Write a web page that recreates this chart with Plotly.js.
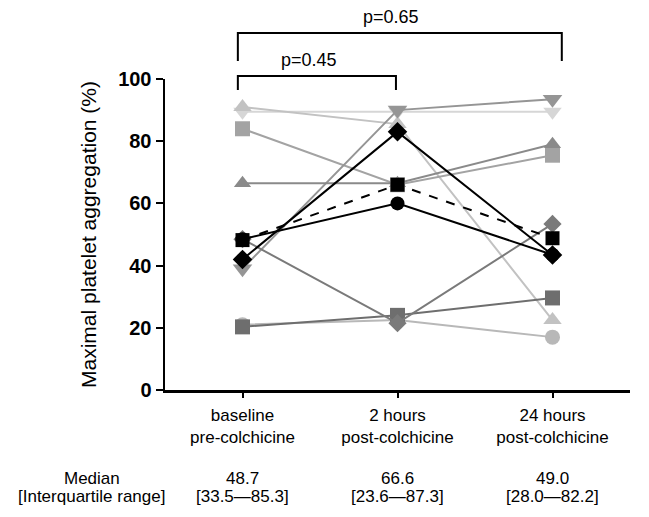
<!DOCTYPE html>
<html>
<head>
<meta charset="utf-8">
<script src="https://cdn.plot.ly/plotly-3.0.1.min.js"></script>
<style>html,body{margin:0;padding:0;background:#fff;}#chart{width:649px;height:517px;}</style>
</head>
<body>
<div id="chart"></div>
<script>
// Time points (x categories)
var timepoints = [0, 1, 2];
var tickLabels = ["baseline<br>pre-colchicine", "2 hours<br>post-colchicine", "24 hours<br>post-colchicine"];

// Individual patients: maximal platelet aggregation (%)
var p_lightTriUp   = [91, 85.5, 22.5];
var p_paleTriDown  = [89.5, 89.5, 89.5];
var p_grayTriDown  = [39, 90, 93.5];
var p_graySquare   = [84, 66, 75.5];
var p_grayTriUp    = [66.5, 66.5, 79];
var p_lightCircle  = [21, 22.5, 17];
var p_darkSquare   = [20.3, 24, 29.6];
var p_grayDiamond  = [48.5, 21.5, 53.4];
var p_blackCircle  = [48.5, 60, 43.5];
var p_blackDiamond = [42, 83, 43.4];
var p_blackSquare  = [48.2, 66, 48.8];

// Summary statistics
var medians = ["48.7", "66.6", "49.0"];
var iqrs = ["[33.5\u201485.3]", "[23.6\u201487.3]", "[28.0\u201482.2]"];
var pValues = ["p=0.45", "p=0.65"];

function tr(y, color, symbol, size, dash) {
  return {
    x: timepoints, y: y, type: "scatter", mode: "lines+markers",
    line: {color: color, width: 2, dash: dash || "solid"},
    marker: {color: color, symbol: symbol, size: size, line: {width: 0}},
    showlegend: false, hoverinfo: "y"
  };
}

var data = [
  tr(p_paleTriDown, "#d6d6d6", "triangle-down", 16),
  tr(p_lightTriUp, "#c2c2c2", "triangle-up", 16),
  tr(p_lightCircle, "#b8b8b8", "circle", 15),
  tr(p_graySquare, "#a3a3a3", "square", 15),
  tr(p_grayTriDown, "#959595", "triangle-down", 17),
  tr(p_grayTriUp, "#8a8a8a", "triangle-up", 15),
  tr(p_darkSquare, "#6e6e6e", "square", 15),
  tr(p_grayDiamond, "#7a7a7a", "diamond", 14),
  tr(p_blackCircle, "#000000", "circle", 14),
  tr(p_blackDiamond, "#000000", "diamond", 15),
  tr(p_blackSquare, "#000000", "square", 14, "dash")
];

var font = "Liberation Sans, Arial, sans-serif";
function ann(xref, x, y, text, size) {
  return {xref: xref, yref: "paper", x: x, y: y, xanchor: "center", yanchor: "middle",
          text: text, showarrow: false, font: {size: size || 17, color: "#000", family: font}};
}

var annotations = [
  ann("x", 0.43, 1.061, pValues[0], 18),
  ann("x", 0.96, 1.199, pValues[1], 18),
  ann("paper", -0.157, -0.283, "Median"),
  ann("paper", -0.157, -0.344, "[Interquartile range]")
];
for (var i = 0; i < timepoints.length; i++) {
  annotations.push(ann("x", timepoints[i], -0.283, medians[i]));
  annotations.push(ann("x", timepoints[i], -0.344, iqrs[i]));
}

var bl = {color: "#000", width: 2};
var shapes = [
  {type: "path", xref: "x", yref: "paper", path: "M -0.03,1.058 L -0.03,1.148 L 2.06,1.148 L 2.06,1.058", line: bl},
  {type: "path", xref: "x", yref: "paper", path: "M -0.03,0.965 L -0.03,1.010 L 0.99,1.010 L 0.99,0.965", line: bl}
];

var layout = {
  width: 649, height: 517,
  margin: {l: 165, r: 19, t: 79, b: 127},
  paper_bgcolor: "#fff", plot_bgcolor: "#fff",
  font: {family: font, color: "#000"},
  xaxis: {
    range: [-0.5, 2.5], tickvals: timepoints, ticktext: tickLabels,
    showline: true, linewidth: 2.5, linecolor: "#000", mirror: false,
    ticks: "outside", ticklen: 5, tickwidth: 2, tickcolor: "#000",
    showgrid: false, zeroline: false, ticklabelstandoff: 3,
    tickfont: {size: 17, color: "#000", family: font}
  },
  yaxis: {
    range: [0, 100], dtick: 20, tick0: 0,
    showline: true, linewidth: 2.5, linecolor: "#000",
    ticks: "outside", ticklen: 7, tickwidth: 2, tickcolor: "#000",
    showgrid: false, zeroline: false,
    tickfont: {size: 20, color: "#000", family: font, weight: "bold"},
    title: {text: "Maximal platelet aggregation (%)", font: {size: 21, color: "#000", family: font}, standoff: 16}
  },
  annotations: annotations,
  shapes: shapes
};

Plotly.newPlot("chart", data, layout, {displayModeBar: false, staticPlot: true});
</script>
</body>
</html>
